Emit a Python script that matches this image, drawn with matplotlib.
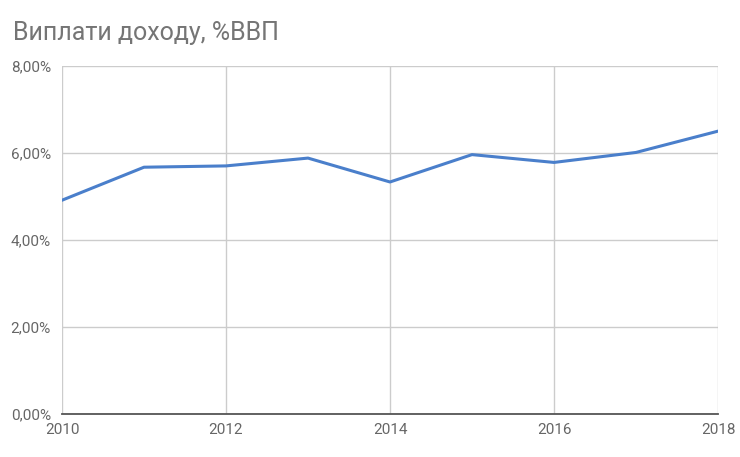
import matplotlib
matplotlib.use("Agg")
import matplotlib.pyplot as plt
from matplotlib.ticker import FuncFormatter, MultipleLocator

years = [2010, 2011, 2012, 2013, 2014, 2015, 2016, 2017, 2018]
values = [4.91, 5.67, 5.70, 5.88, 5.33, 5.96, 5.78, 6.01, 6.50]
title = "Виплати доходу, %ВВП"

plt.rcParams['font.family'] = ['Roboto', 'DejaVu Sans']

fig = plt.figure(figsize=(7.4, 4.57), dpi=100)
ax = fig.add_axes([62/740, 1 - 413.5/457, (718-62)/740, (413.5-66)/457])

ax.plot(years, values, color='#4a7fcb', lw=2.2, solid_joinstyle='round', zorder=3)

ax.set_xlim(2010, 2018)
ax.set_ylim(0, 8)
ax.xaxis.set_major_locator(MultipleLocator(2))
ax.yaxis.set_major_locator(MultipleLocator(2))
ax.yaxis.set_major_formatter(FuncFormatter(lambda v, p: f"{v:.2f}%".replace('.', ',')))

ax.grid(True, color='#cccccc', lw=1)
ax.set_axisbelow(True)
for s in ['top', 'right', 'left']:
    ax.spines[s].set_visible(False)
ax.spines['bottom'].set_color('#555555')
ax.spines['bottom'].set_linewidth(1.3)
ax.spines['bottom'].set_zorder(4)
ax.tick_params(length=0, labelsize=11, colors='#666666')
ax.tick_params(axis='y', pad=8)
ax.tick_params(axis='x', pad=7)

fig.text(13/740, 1 - 33/457, title, fontsize=18, color='#757575', va='center', ha='left')

fig.savefig("out.png", dpi=100)
